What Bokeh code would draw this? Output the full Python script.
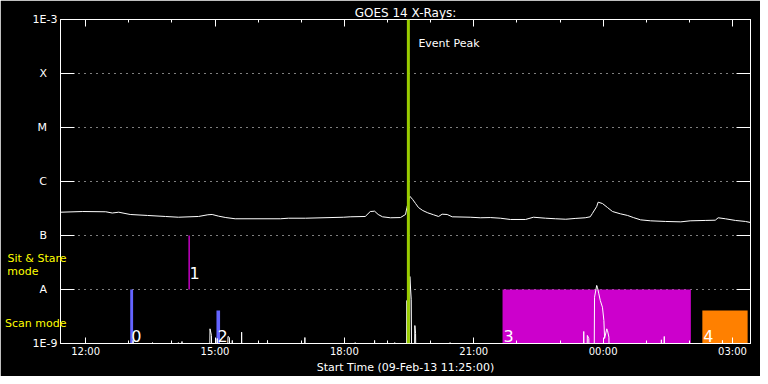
import calendar
from datetime import datetime, timedelta
from bokeh.plotting import figure
from bokeh.models import (ColumnDataSource, DatetimeAxis, LogAxis, FixedTicker,
                          DatetimeTickFormatter, Span, Label, Range1d, CustomJSTickFormatter)
from bokeh.embed import file_html
from bokeh.resources import INLINE
from bokeh.core.properties import value

FONT = "DejaVu Sans"

# ---------------- data ----------------
title_text = "GOES 14 X-Rays:"
x_label = "Start Time (09-Feb-13 11:25:00)"
start_time = "11:25"
end_time = "03:25"
x_tick_labels = ["12:00", "15:00", "18:00", "21:00", "00:00", "03:00"]
x_minor_labels = ["12:00", "13:00", "14:00", "15:00", "16:00", "17:00", "18:00", "19:00",
                  "20:00", "21:00", "22:00", "23:00", "00:00", "01:00", "02:00", "03:00"]
y_ticks = [1e-9, 1e-8, 1e-7, 1e-6, 1e-5, 1e-4, 1e-3]
y_tick_labels = ["1E-9", "A", "B", "C", "M", "X", "1E-3"]
grid_levels = [1e-8, 1e-7, 1e-6, 1e-5, 1e-4]

goes_times = ["11:25", "11:56", "12:28", "12:37", "12:46", "13:02", "13:26", "13:51", "14:09",
              "14:37", "14:50", "14:56", "15:05", "15:15", "15:28", "16:31", "16:42", "17:06",
              "17:59", "18:08", "18:29", "18:36", "18:42", "18:47", "18:53", "19:04", "19:18",
              "19:25", "19:27", "19:31", "19:35", "19:39", "19:43", "19:49", "19:56", "20:04",
              "20:11", "20:16", "20:23", "20:30", "20:55", "21:09", "21:23", "21:37", "21:51",
              "22:12", "22:23", "22:40", "22:54", "23:08", "23:21", "23:35", "23:42", "23:45",
              "23:51", "23:53", "23:59", "00:06", "00:13", "00:24", "00:34", "00:42", "00:52",
              "01:06", "01:27", "01:48", "02:01", "02:22", "02:36", "02:40", "02:50", "03:04",
              "03:18", "03:25"]
goes_flux = [2.70e-7, 2.78e-7, 2.75e-7, 2.61e-7, 2.70e-7, 2.45e-7, 2.35e-7, 2.25e-7, 2.18e-7,
             2.25e-7, 2.42e-7, 2.45e-7, 2.28e-7, 2.15e-7, 2.04e-7, 2.04e-7, 2.09e-7, 2.09e-7,
             2.18e-7, 2.22e-7, 2.25e-7, 2.78e-7, 2.82e-7, 2.45e-7, 2.22e-7, 2.13e-7, 2.15e-7,
             2.45e-7, 3.30e-7, 5.34e-7, 4.64e-7, 3.91e-7, 3.30e-7, 2.90e-7, 2.63e-7, 2.42e-7,
             2.25e-7, 2.48e-7, 2.45e-7, 2.22e-7, 2.18e-7, 2.13e-7, 2.15e-7, 2.09e-7, 1.98e-7,
             1.98e-7, 2.18e-7, 2.09e-7, 2.04e-7, 2.00e-7, 2.07e-7, 2.13e-7, 2.22e-7, 2.56e-7,
             3.44e-7, 4.14e-7, 3.91e-7, 3.30e-7, 2.78e-7, 2.52e-7, 2.35e-7, 2.15e-7, 1.95e-7,
             1.87e-7, 1.82e-7, 1.79e-7, 1.87e-7, 1.90e-7, 1.92e-7, 2.13e-7, 2.04e-7, 1.90e-7,
             1.82e-7, 1.74e-7]

low_times = ["13:06", "13:33", "14:09", "14:14", "14:53", "14:55", "15:03", "15:18", "15:20",
             "15:24", "15:37", "16:13", "17:05", "18:15", "18:42", "19:10", "19:27", "19:31",
             "19:33", "19:38", "19:39", "20:27", "23:33", "23:38", "23:40", "23:48", "23:51",
             "23:52", "23:54", "23:56", "23:59", "00:01", "00:02", "00:05", "00:06", "00:08",
             "01:21", "01:25", "02:46"]
low_flux = [1.14e-9, 1.04e-9, 1.04e-9, 1.09e-9, 1.87e-9, 1.41e-9, 1.24e-9, 1.35e-9, 1.29e-9,
            1.14e-9, 1.62e-9, 1.14e-9, 1.29e-9, 1.04e-9, 1.14e-9, 1.04e-9, 6.26e-9, 1.74e-8,
            6.45e-9, 2.15e-9, 1.53e-9, 1.04e-9, 1.67e-9, 1.41e-9, 1.24e-9, 7.20e-9, 1.19e-8,
            1.10e-8, 8.30e-9, 6.26e-9, 4.70e-9, 2.67e-9, 1.24e-9, 1.87e-9, 1.74e-9, 1.31e-9,
            1.17e-9, 1.35e-9, 1.14e-9]
low_floor = 5e-10

event_peak_time = "19:29"

mode_ids = ["0", "1", "2", "3", "4"]
mode_start = ["13:02", "14:23", "15:02", "21:40", "02:18"]
mode_end = ["13:06", "14:25", "15:07", "02:02", "03:21"]
mode_lo = [1e-9, 1e-8, 1e-9, 1e-9, 1e-9]
mode_hi = [1e-8, 1e-7, 4.1e-9, 1e-8, 4.1e-9]
mode_colors = ["#6464ff", "#cc00cc", "#6464ff", "#cc00cc", "#ff8000"]

mode_region_labels = ["Scan mode", "mode", "Sit & Stare"]
mode_region_y = [2.30e-9, 2.15e-8, 3.75e-8]
mode_region_pad = [0, 8, 0]

# ---------------- helpers ----------------
BASE = datetime(2013, 2, 9)


def t(s):
    h, m = map(int, s.split(":"))
    d = BASE + timedelta(hours=h, minutes=m)
    if h < 11:
        d += timedelta(days=1)
    return d


def ms(d):
    return calendar.timegm(d.timetuple()) * 1000.0


NB = "\u00a0"

# low-channel trace: spikes rising from below the axis
low_x, low_y = [], []
prev = None
for s, v in zip(low_times, low_flux):
    tt = t(s)
    if prev is None or (tt - prev) > timedelta(minutes=3):
        if prev is not None:
            low_x.append(prev + timedelta(seconds=30)); low_y.append(low_floor)
        low_x.append(tt - timedelta(seconds=30)); low_y.append(low_floor)
    low_x.append(tt); low_y.append(v)
    prev = tt
low_x.append(prev + timedelta(seconds=30)); low_y.append(low_floor)

W, H = 760, 376
ML, MR, MT, MB = 60, 10, 19, 33

p = figure(width=W, height=H, x_axis_type="datetime", y_axis_type="log",
           x_range=Range1d(t(start_time), t(end_time)), y_range=Range1d(1e-9, 1e-3),
           output_backend="svg", toolbar_location=None,
           background_fill_color="black", border_fill_color="black",
           min_border_left=ML, min_border_right=MR, min_border_top=MT, min_border_bottom=MB)
p.outline_line_color = "white"
p.outline_line_width = 1

p.title.text = title_text
p.title.text_color = "white"
p.title.text_font = FONT
p.title.text_font_size = "12px"
p.title.text_font_style = "normal"
p.title.align = "center"
p.title.standoff = 0

major_ms = [ms(t(s)) for s in x_tick_labels]
minor_ms = [ms(t(s)) for s in x_minor_labels]
fmt = DatetimeTickFormatter(hours="%H:%M", hourmin="%H:%M", days="%H:%M", minutes="%H:%M",
                            strip_leading_zeros=False)
blank = CustomJSTickFormatter(code="return '';")

xa = p.xaxis[0]
xa.ticker = FixedTicker(ticks=major_ms, minor_ticks=minor_ms)
xa.formatter = fmt
xa.major_tick_in = 6
xa.major_tick_out = 0
xa.minor_tick_in = 3
xa.minor_tick_out = 0
xa.axis_line_color = "white"
xa.major_tick_line_color = "white"
xa.minor_tick_line_color = "white"
xa.major_label_text_color = "white"
xa.major_label_text_font = FONT
xa.major_label_text_font_size = "10px"
xa.major_label_standoff = 2
xa.axis_label = x_label
xa.axis_label_text_color = "white"
xa.axis_label_text_font = FONT
xa.axis_label_text_font_size = "11px"
xa.axis_label_text_font_style = "normal"
xa.axis_label_standoff = 1

ya = p.yaxis[0]
ya.ticker = FixedTicker(ticks=y_ticks, minor_ticks=[])
ya.major_label_overrides = {v: (lab if len(lab) > 1 else lab + NB * 3)
                            for v, lab in zip(y_ticks, y_tick_labels)}
ya.major_tick_in = 14
ya.major_tick_out = 0
ya.minor_tick_in = 0
ya.minor_tick_out = 0
ya.minor_tick_line_color = None
ya.axis_line_color = "white"
ya.major_tick_line_color = "white"
ya.major_label_text_color = "white"
ya.major_label_text_font = FONT
ya.major_label_text_font_size = "11px"
ya.major_label_standoff = 3

# yellow mode-region captions as a second, tick-less left axis
mode_axis = LogAxis(ticker=FixedTicker(ticks=mode_region_y, minor_ticks=[]),
                    major_label_overrides={v: lab + NB * n for v, lab, n in
                                           zip(mode_region_y, mode_region_labels, mode_region_pad)},
                    major_tick_in=0, major_tick_out=0, minor_tick_in=0, minor_tick_out=0,
                    axis_line_color=None, major_tick_line_color=None, minor_tick_line_color=None,
                    major_label_text_color="#ffff00", major_label_text_font=FONT,
                    major_label_text_font_size="11px", major_label_standoff=-37)
p.add_layout(mode_axis, "left")

top_axis = DatetimeAxis(ticker=FixedTicker(ticks=major_ms, minor_ticks=minor_ms), formatter=blank,
                        major_tick_in=7, major_tick_out=0, minor_tick_in=3, minor_tick_out=0,
                        axis_line_color="white", major_tick_line_color="white",
                        minor_tick_line_color="white", major_label_text_font_size="1px",
                        major_label_standoff=0)
p.add_layout(top_axis, "above")

right_axis = LogAxis(ticker=FixedTicker(ticks=y_ticks, minor_ticks=[]), formatter=blank,
                     major_tick_in=14, major_tick_out=0, minor_tick_in=0, minor_tick_out=0,
                     minor_tick_line_color=None,
                     axis_line_color="white", major_tick_line_color="white",
                     major_label_text_font_size="1px", major_label_standoff=0)
p.add_layout(right_axis, "right")

p.xgrid.visible = False
p.ygrid.ticker = FixedTicker(ticks=grid_levels, minor_ticks=[])
p.ygrid.grid_line_color = "white"
p.ygrid.grid_line_dash = "1 5"
p.ygrid.grid_line_width = 1

# mode bars
mode_src = ColumnDataSource(dict(
    left=[t(s) for s in mode_start], right=[t(s) for s in mode_end],
    bottom=mode_lo, top=mode_hi, color=mode_colors, label=mode_ids,
    yoff=[-17 if lo >= 1e-8 else -8 for lo in mode_lo]))
p.quad(left="left", right="right", bottom="bottom", top="top", fill_color="color",
       line_color=None, source=mode_src)
p.text(x="left", y="bottom", text="label", source=mode_src, x_offset=1, y_offset="yoff",
       text_color="white", text_font=value(FONT), text_font_size="16px",
       text_baseline="alphabetic", text_align="left")

# curves
p.line([t(s) for s in goes_times], goes_flux, line_color="white", line_width=1)
p.line(low_x, low_y, line_color="white", line_width=1)

# event peak
ev = ms(t(event_peak_time))
p.add_layout(Span(location=ev, dimension="height", line_color="#99cc00", line_width=3))
p.add_layout(Label(x=ev, y=1e-3, x_units="data", y_units="data", x_offset=10, y_offset=-24,
                   text="Event Peak", text_color="white", text_font=FONT,
                   text_font_size="11px", text_baseline="middle"))

open("out.html", "w").write(file_html(p, INLINE))
